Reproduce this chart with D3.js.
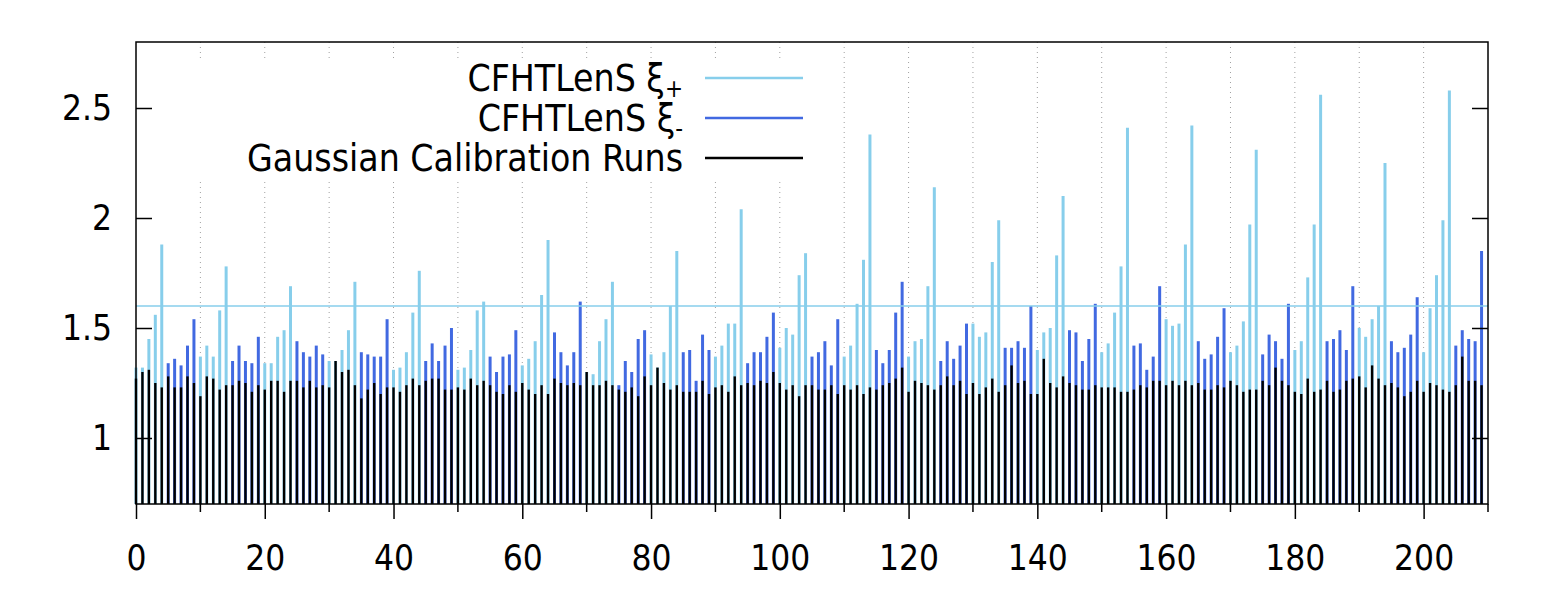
<!DOCTYPE html>
<html>
<head>
<meta charset="utf-8">
<script src="https://cdn.jsdelivr.net/npm/d3@7/dist/d3.min.js"></script>
<style>
  html, body { margin: 0; padding: 0; background: #fff; }
  svg { display: block; font-family: "DejaVu Sans Condensed", "DejaVu Sans", sans-serif; font-stretch: condensed; }
</style>
</head>
<body>
<svg width="1550" height="600"></svg>
<script>
const width = 1550;
const height = 600;
const margin = { top: 42, right: 62, bottom: 96, left: 136 };

// xi+ occupies bins 0-4 of every block of ten, xi- bins 5-9
const xiPlus = [
    1.32, 1.32, 1.45, 1.56, 1.88,
    1.37, 1.42, 1.37, 1.58, 1.78,
    1.34, 1.34, 1.46, 1.49, 1.69,
    1.35, 1.35, 1.40, 1.49, 1.71,
    1.31, 1.32, 1.39, 1.57, 1.76,
    1.31, 1.32, 1.40, 1.58, 1.62,
    1.33, 1.36, 1.44, 1.65, 1.90,
    1.30, 1.29, 1.44, 1.54, 1.71,
    1.38, 1.32, 1.39, 1.60, 1.85,
    1.37, 1.42, 1.52, 1.52, 2.04,
    1.41, 1.50, 1.47, 1.74, 1.84,
    1.37, 1.42, 1.61, 1.81, 2.38,
    1.37, 1.44, 1.45, 1.69, 2.14,
    1.52, 1.46, 1.48, 1.80, 1.99,
    1.40, 1.48, 1.50, 1.83, 2.10,
    1.39, 1.43, 1.57, 1.78, 2.41,
    1.54, 1.51, 1.52, 1.88, 2.42,
    1.39, 1.42, 1.53, 1.97, 2.31,
    1.40, 1.44, 1.73, 1.97, 2.56,
    1.50, 1.46, 1.54, 1.60, 2.25,
    1.39, 1.59, 1.74, 1.99, 2.58
];

const xiMinus = [
    1.34, 1.36, 1.33, 1.42, 1.54,
    1.35, 1.42, 1.35, 1.34, 1.46,
    1.44, 1.39, 1.37, 1.42, 1.38,
    1.39, 1.38, 1.37, 1.37, 1.54,
    1.35, 1.43, 1.35, 1.42, 1.50,
    1.37, 1.30, 1.37, 1.38, 1.49,
    1.48, 1.39, 1.33, 1.39, 1.62,
    1.24, 1.35, 1.30, 1.45, 1.49,
    1.39, 1.40, 1.26, 1.47, 1.40,
    1.34, 1.39, 1.39, 1.46, 1.57,
    1.37, 1.39, 1.44, 1.33, 1.54,
    1.40, 1.34, 1.40, 1.57, 1.71,
    1.35, 1.44, 1.36, 1.42, 1.52,
    1.41, 1.41, 1.44, 1.41, 1.60,
    1.49, 1.48, 1.35, 1.45, 1.61,
    1.42, 1.43, 1.31, 1.37, 1.69,
    1.44, 1.36, 1.38, 1.46, 1.59,
    1.38, 1.47, 1.44, 1.36, 1.61,
    1.44, 1.45, 1.49, 1.40, 1.69,
    1.44, 1.39, 1.41, 1.47, 1.64,
    1.42, 1.49, 1.45, 1.44, 1.85
];

const gaussian = [
    1.27, 1.30, 1.31, 1.25, 1.23, 1.28, 1.23, 1.23, 1.28, 1.25,
    1.19, 1.28, 1.27, 1.22, 1.24, 1.24, 1.26, 1.25, 1.21, 1.24,
    1.22, 1.26, 1.26, 1.21, 1.26, 1.26, 1.23, 1.26, 1.23, 1.24,
    1.23, 1.35, 1.30, 1.31, 1.24, 1.18, 1.22, 1.25, 1.20, 1.23,
    1.23, 1.21, 1.24, 1.27, 1.24, 1.26, 1.27, 1.27, 1.22, 1.22,
    1.23, 1.22, 1.27, 1.24, 1.26, 1.24, 1.21, 1.20, 1.24, 1.21,
    1.25, 1.22, 1.20, 1.24, 1.20, 1.27, 1.25, 1.24, 1.25, 1.24,
    1.30, 1.24, 1.24, 1.26, 1.24, 1.22, 1.21, 1.23, 1.19, 1.28,
    1.24, 1.32, 1.25, 1.22, 1.24, 1.21, 1.21, 1.21, 1.26, 1.20,
    1.23, 1.24, 1.21, 1.28, 1.24, 1.25, 1.24, 1.26, 1.25, 1.30,
    1.25, 1.22, 1.24, 1.19, 1.24, 1.24, 1.22, 1.22, 1.24, 1.20,
    1.24, 1.22, 1.24, 1.20, 1.23, 1.22, 1.24, 1.25, 1.27, 1.32,
    1.21, 1.26, 1.25, 1.24, 1.22, 1.24, 1.28, 1.24, 1.26, 1.20,
    1.25, 1.20, 1.23, 1.27, 1.21, 1.24, 1.33, 1.25, 1.26, 1.20,
    1.20, 1.36, 1.25, 1.23, 1.28, 1.25, 1.24, 1.22, 1.22, 1.24,
    1.23, 1.23, 1.23, 1.21, 1.21, 1.22, 1.24, 1.23, 1.26, 1.26,
    1.24, 1.26, 1.24, 1.26, 1.24, 1.25, 1.22, 1.22, 1.24, 1.23,
    1.26, 1.24, 1.21, 1.22, 1.22, 1.26, 1.24, 1.32, 1.26, 1.24,
    1.21, 1.20, 1.27, 1.21, 1.22, 1.26, 1.21, 1.22, 1.26, 1.27,
    1.28, 1.23, 1.33, 1.27, 1.24, 1.25, 1.23, 1.19, 1.21, 1.26,
    1.21, 1.25, 1.24, 1.22, 1.21, 1.24, 1.37, 1.26, 1.26, 1.24
];

const xTicks = [0, 20, 40, 60, 80, 100, 120, 140, 160, 180, 200];
const xMinorTicks = [10, 30, 50, 70, 90, 110, 130, 150, 170, 190, 210];
const gridXs = [10, 20, 30, 40, 50, 60, 70, 80, 90, 100, 110, 120, 130, 140, 150, 160, 170, 180, 190, 200];
const yTicks = [1, 1.5, 2, 2.5];
const refLevel = 1.6;

const colPlus = "#87ceeb";
const colMinus = "#4169e1";
const colGauss = "#000000";

const series = [
    { label: "CFHTLenS ξ", sub: "+", color: colPlus },
    { label: "CFHTLenS ξ", sub: "-", color: colMinus },
    { label: "Gaussian Calibration Runs", sub: null, color: colGauss }
];

const tickFont = "35px";
const legendFont = "37px";

const svg = d3.select("svg");

const x = d3.scaleLinear().domain([0, 210]).range([margin.left, width - margin.right]);
const y = d3.scaleLinear().domain([0.7, 2.8]).range([height - margin.bottom, margin.top]);

const plusPts = xiPlus.map((v, k) => ({ x: Math.floor(k / 5) * 10 + k % 5, v }));
const minusPts = xiMinus.map((v, k) => ({ x: Math.floor(k / 5) * 10 + 5 + k % 5, v }));
const gaussPts = gaussian.map((v, i) => ({ x: i, v }));

// dotted vertical grid
svg.append("g")
    .selectAll("line")
    .data(gridXs)
    .enter()
    .append("line")
    .attr("x1", d => x(d))
    .attr("x2", d => x(d))
    .attr("y1", y.range()[1])
    .attr("y2", y.range()[0])
    .attr("stroke", "#a0a0a0")
    .attr("stroke-width", 1)
    .attr("stroke-dasharray", "1,4");

// impulses
function impulses(pts, color, w) {
    svg.append("g")
        .selectAll("line")
        .data(pts)
        .enter()
        .append("line")
        .attr("x1", d => x(d.x))
        .attr("x2", d => x(d.x))
        .attr("y1", y(0.7))
        .attr("y2", d => y(d.v))
        .attr("stroke", color)
        .attr("stroke-width", w);
}
impulses(plusPts, colPlus, 3);
impulses(minusPts, colMinus, 3);
impulses(gaussPts, colGauss, 2.4);

// reference level
svg.append("line")
    .attr("x1", x(0))
    .attr("x2", x(210))
    .attr("y1", y(refLevel))
    .attr("y2", y(refLevel))
    .attr("stroke", colPlus)
    .attr("stroke-width", 1.5);

// y ticks, left and right, pointing inward
const yAxisL = d3.axisLeft(y).tickValues(yTicks).tickSizeInner(-16).tickSizeOuter(0).tickPadding(24).tickFormat(d3.format("~g"));
const yAxisR = d3.axisRight(y).tickValues(yTicks).tickSizeInner(-16).tickSizeOuter(0).tickFormat("");
const gl = svg.append("g").attr("transform", `translate(${x(0)},0)`).call(yAxisL);
const gr = svg.append("g").attr("transform", `translate(${x(210)},0)`).call(yAxisR);
[gl, gr].forEach(g => {
    g.select(".domain").remove();
    g.selectAll("line").attr("stroke", "#000").attr("stroke-width", 1.5);
});
gl.attr("font-family", null);
gl.selectAll("text")
    .attr("fill", "#000")
    .style("font-size", tickFont);

// x ticks, pointing outward
const xAxis = d3.axisBottom(x).tickValues(xTicks).tickSize(15).tickPadding(26);
const gx = svg.append("g").attr("transform", `translate(0,${y(0.7)})`).call(xAxis);
gx.attr("font-family", null);
gx.select(".domain").remove();
gx.selectAll("line").attr("stroke", "#000").attr("stroke-width", 1.5);
gx.selectAll("text")
    .attr("fill", "#000")
    .style("font-size", tickFont);

svg.append("g")
    .attr("transform", `translate(0,${y(0.7)})`)
    .selectAll("line")
    .data(xMinorTicks)
    .enter()
    .append("line")
    .attr("x1", d => x(d))
    .attr("x2", d => x(d))
    .attr("y1", 0)
    .attr("y2", 8)
    .attr("stroke", "#000")
    .attr("stroke-width", 1.5);

// frame
svg.append("rect")
    .attr("x", x(0))
    .attr("y", y(2.8))
    .attr("width", x(210) - x(0))
    .attr("height", y(0.7) - y(2.8))
    .attr("fill", "none")
    .attr("stroke", "#000")
    .attr("stroke-width", 1.5);

// legend with opaque background
const legendRight = 683;
const legendTop = 78;
const legendRow = 40;
const legend = svg.append("g");

legend.append("rect")
    .attr("x", 190)
    .attr("y", legendTop - legendRow / 2)
    .attr("width", 625)
    .attr("height", legendRow * series.length)
    .attr("fill", "#fff");

const rows = legend.selectAll("g.row")
    .data(series)
    .enter()
    .append("g")
    .attr("transform", (d, i) => `translate(0,${legendTop + i * legendRow})`);

const labels = rows.append("text")
    .attr("x", legendRight)
    .attr("y", 13)
    .attr("text-anchor", "end")
    .style("font-size", legendFont);

labels.append("tspan").text(d => d.label);
labels.filter(d => d.sub)
    .append("tspan")
    .attr("dy", 6)
    .style("font-size", "24px")
    .text(d => d.sub);

rows.append("line")
    .attr("x1", 705)
    .attr("x2", 803)
    .attr("y1", 0)
    .attr("y2", 0)
    .attr("stroke", d => d.color)
    .attr("stroke-width", 2.5);
</script>
</body>
</html>
